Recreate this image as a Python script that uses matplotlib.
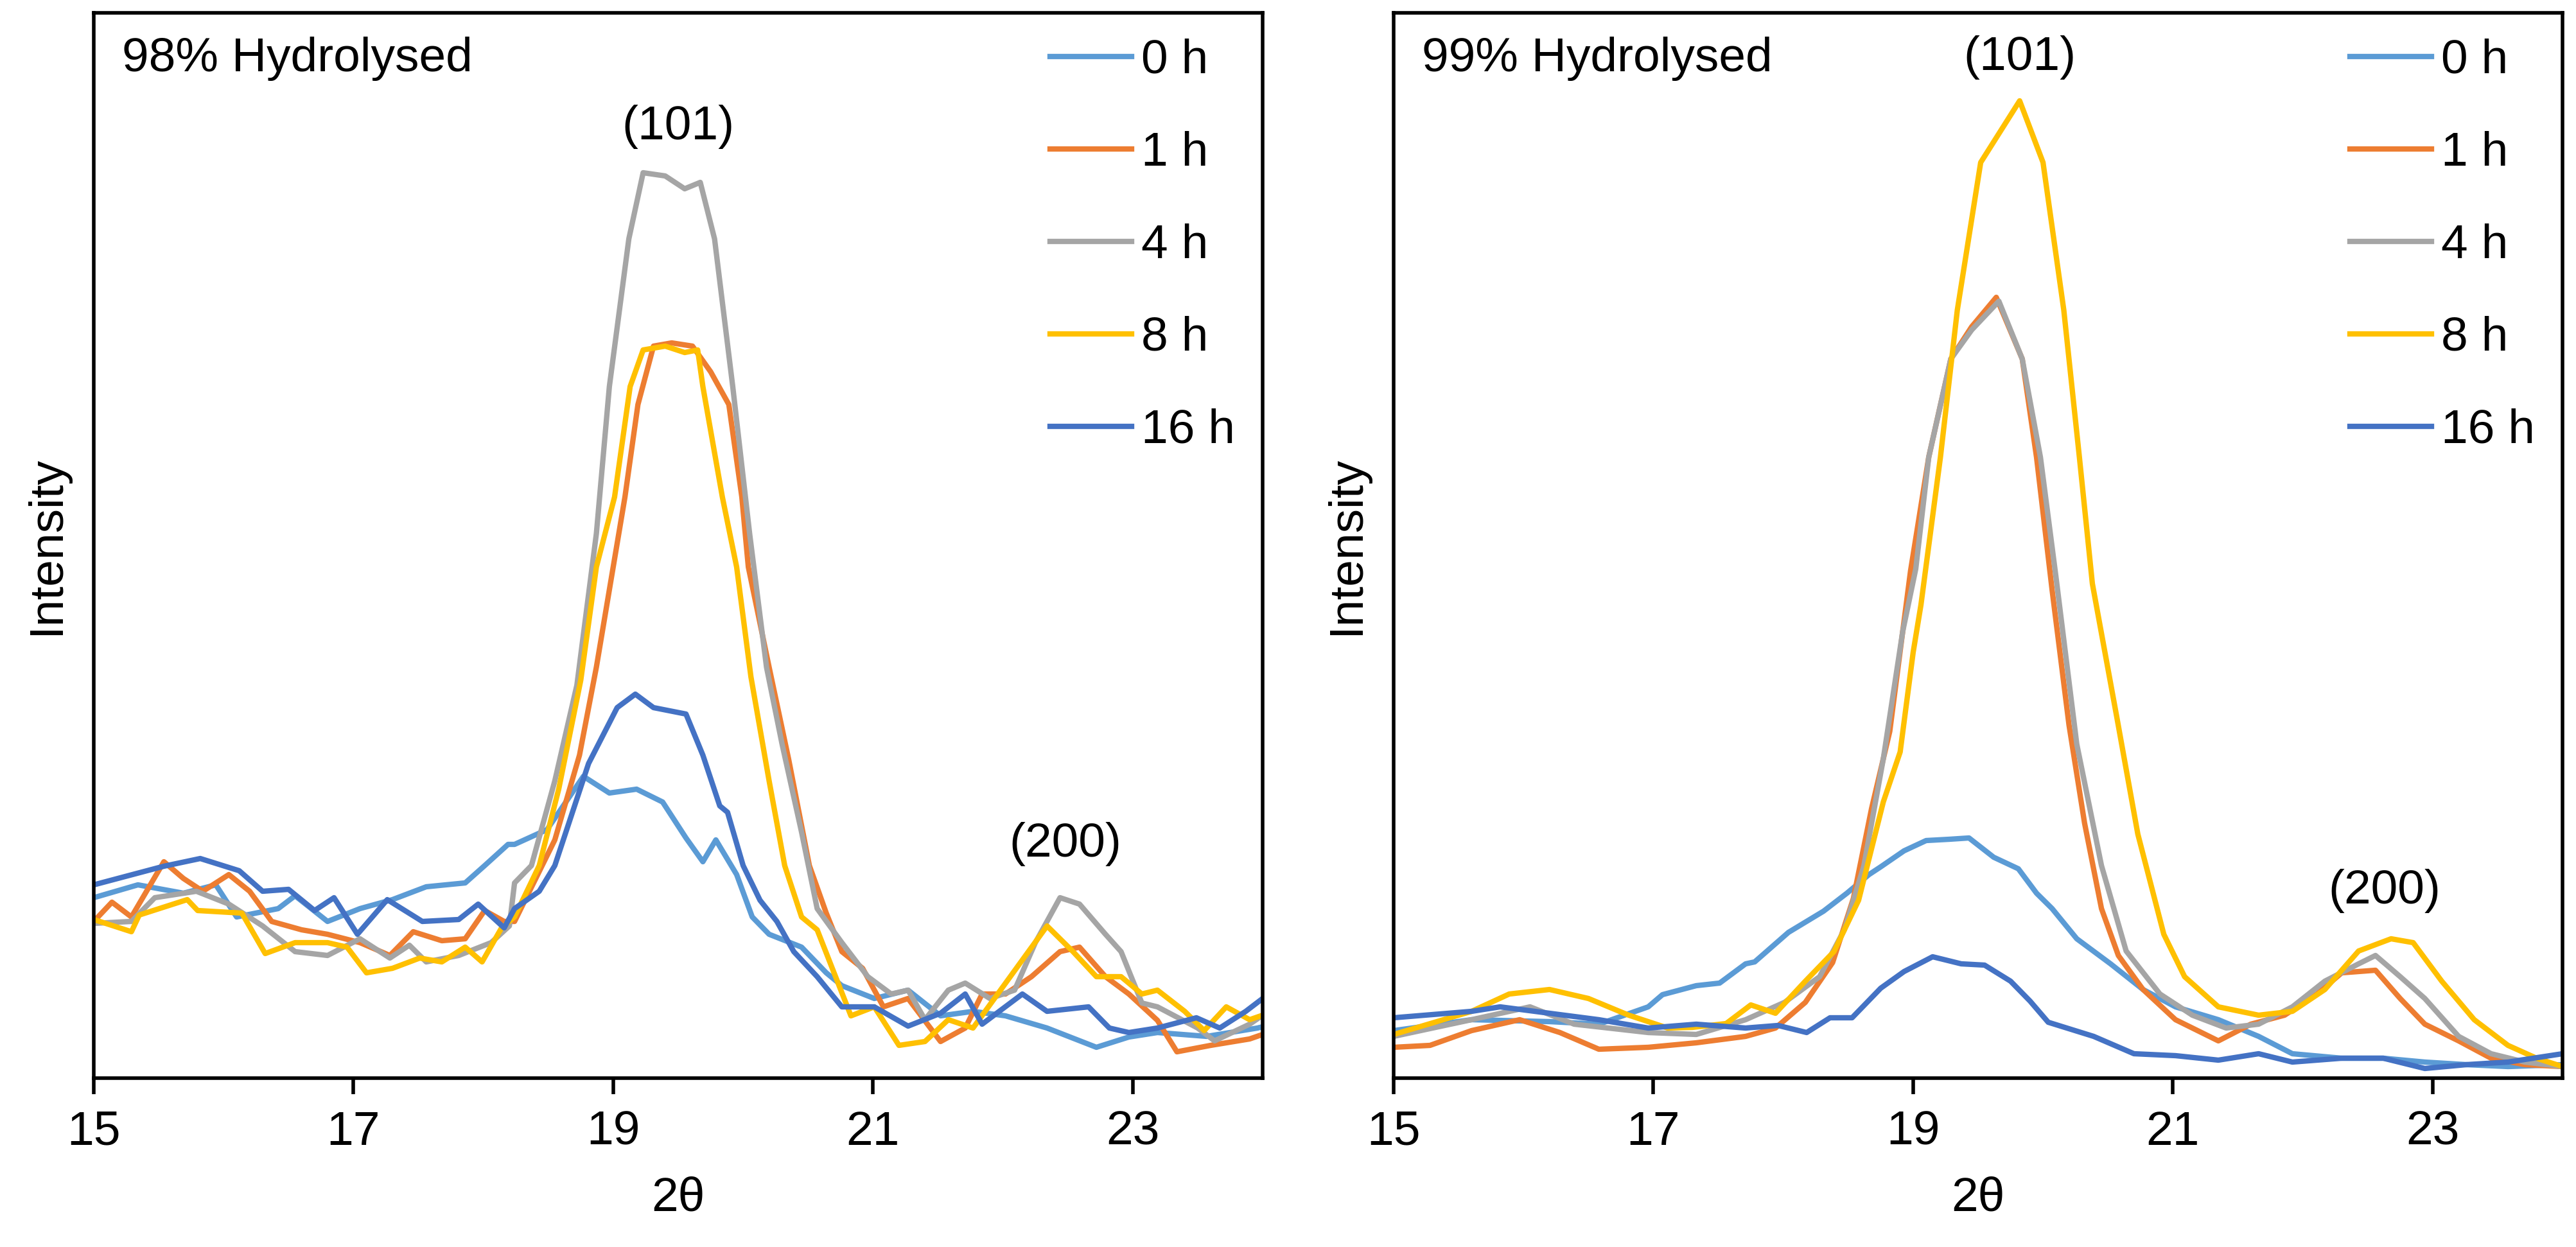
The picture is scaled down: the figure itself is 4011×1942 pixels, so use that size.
import matplotlib
matplotlib.use("Agg")
import matplotlib.pyplot as plt

# 2theta / intensity readings (arbitrary units, baseline = 0)
labels = ['0 h', '1 h', '4 h', '8 h', '16 h']
colors = ['#5B9BD5', '#ED7D31', '#A5A5A5', '#FFC000', '#4472C4']

# ---- 98% hydrolysed ----
tth98_0h = [15.0, 15.34, 15.69, 15.94, 16.1, 16.42, 16.55, 16.8, 17.05, 17.3, 17.56, 17.86, 18.01, 18.19,
            18.24, 18.49, 18.77, 18.97, 19.18, 19.38, 19.56, 19.69, 19.79, 19.95, 20.07, 20.2, 20.45,
            20.64, 20.76, 21.01, 21.27, 21.52, 21.77, 22.02, 22.34, 22.72, 22.97, 23.19, 23.57, 23.96, 24.0]
int98_0h = [281, 301, 288, 301, 251, 264, 284, 244, 264, 278, 298, 304, 331, 364,
            364, 387, 470, 444, 450, 430, 374, 337, 371, 317, 251, 224, 204,
            164, 144, 124, 137, 97, 104, 97, 78, 48, 64, 71, 65, 78, 80]

tth98_1h = [15.0, 15.14, 15.29, 15.54, 15.69, 15.84, 16.04, 16.2, 16.37, 16.6, 16.8, 17.05, 17.28, 17.46,
            17.68, 17.86, 18.01, 18.16, 18.24, 18.55, 18.74, 18.87, 19.09, 19.19, 19.31, 19.45, 19.61,
            19.75, 19.89, 19.99, 20.04, 20.2, 20.35, 20.51, 20.64, 20.76, 20.92, 21.08, 21.27, 21.52,
            21.71, 21.84, 22.02, 22.22, 22.44, 22.59, 22.79, 22.97, 23.19, 23.34, 23.6, 23.9, 24.0]
int98_1h = [244, 274, 251, 337, 311, 291, 317, 291, 244, 231, 224, 211, 191, 228,
            214, 217, 261, 244, 244, 371, 503, 640, 905, 1049, 1140, 1145, 1140,
            1100, 1049, 905, 796, 640, 497, 331, 257, 197, 171, 111, 124, 57,
            78, 131, 131, 158, 197, 204, 158, 131, 90, 41, 51, 61, 68]

tth98_4h = [15.0, 15.29, 15.47, 15.79, 16.04, 16.3, 16.55, 16.8, 17.05, 17.28, 17.43, 17.56, 17.81, 18.06,
            18.2, 18.24, 18.37, 18.55, 18.72, 18.87, 18.97, 19.12, 19.23, 19.4, 19.55, 19.67, 19.78,
            19.92, 20.05, 20.18, 20.3, 20.45, 20.57, 20.76, 20.96, 21.14, 21.27, 21.4, 21.58, 21.71,
            21.9, 22.09, 22.25, 22.44, 22.59, 22.79, 22.91, 23.07, 23.19, 23.5, 23.63, 23.9, 24.0]
int98_4h = [241, 244, 281, 291, 271, 237, 197, 191, 217, 187, 207, 181, 191, 211,
            237, 304, 331, 463, 612, 848, 1077, 1307, 1410, 1405, 1385, 1395, 1307,
            1077, 848, 640, 520, 383, 264, 211, 158, 131, 137, 91, 137, 148,
            124, 137, 211, 281, 271, 224, 197, 117, 111, 78, 58, 84, 98]

tth98_8h = [15.0, 15.29, 15.35, 15.72, 15.8, 16.14, 16.32, 16.55, 16.8, 16.95, 17.1, 17.3, 17.51, 17.68,
            17.86, 17.99, 18.14, 18.24, 18.43, 18.58, 18.75, 18.87, 19.01, 19.13, 19.23, 19.4, 19.55,
            19.65, 19.69, 19.84, 19.95, 20.06, 20.2, 20.32, 20.45, 20.57, 20.7, 20.83, 21.01, 21.2,
            21.4, 21.58, 21.77, 21.96, 22.15, 22.34, 22.54, 22.72, 22.91, 23.07, 23.19, 23.4, 23.55,
            23.72, 23.9, 24.0]
int98_8h = [247, 228, 254, 278, 261, 257, 194, 211, 211, 204, 164, 171, 187, 181,
            204, 181, 234, 251, 331, 450, 620, 796, 905, 1077, 1134, 1140, 1130,
            1134, 1077, 905, 796, 625, 463, 331, 251, 231, 164, 97, 111, 51,
            57, 91, 78, 131, 184, 237, 197, 158, 158, 131, 137, 104, 74,
            111, 91, 98]

tth98_16h = [15.0, 15.54, 15.82, 16.12, 16.3, 16.5, 16.7, 16.85, 17.03, 17.26, 17.53, 17.81, 17.96, 18.16,
             18.24, 18.43, 18.55, 18.81, 19.03, 19.17, 19.31, 19.56, 19.69, 19.82, 19.88, 20.0, 20.13,
             20.26, 20.39, 20.57, 20.76, 21.01, 21.27, 21.52, 21.71, 21.84, 22.15, 22.34, 22.66, 22.82,
             22.97, 23.19, 23.49, 23.67, 23.87, 24.0]
int98_16h = [301, 330, 342, 323, 291, 294, 261, 281, 224, 278, 244, 247, 271, 234,
             264, 291, 331, 490, 577, 598, 577, 567, 503, 424, 414, 331, 277,
             244, 197, 158, 111, 111, 81, 101, 131, 84, 131, 104, 111, 78,
             71, 78, 94, 78, 104, 124]

# ---- 99% hydrolysed ----
tth99_0h = [15.0, 15.6, 16.2, 16.58, 16.96, 17.07, 17.33, 17.51, 17.71, 17.78, 18.04, 18.31, 18.49, 18.66,
            18.75, 18.93, 19.1, 19.28, 19.43, 19.62, 19.81, 19.95, 20.07, 20.26, 20.52, 20.77, 21.02,
            21.35, 21.66, 21.92, 22.3, 22.62, 22.94, 23.26, 23.58, 24.0]
int99_0h = [74, 91, 88, 84, 111, 130, 144, 148, 178, 181, 227, 260, 288, 317,
            329, 354, 370, 372, 374, 344, 326, 288, 264, 217, 178, 138, 111,
            91, 65, 38, 31, 31, 25, 21, 18, 21]

tth99_1h = [15.0, 15.28, 15.6, 15.97, 16.28, 16.58, 16.96, 17.33, 17.71, 17.94, 18.17, 18.38, 18.54, 18.68,
            18.82, 18.98, 19.12, 19.29, 19.45, 19.64, 19.84, 19.95, 20.07, 20.2, 20.32, 20.45, 20.58,
            20.77, 21.02, 21.35, 21.6, 21.86, 22.11, 22.3, 22.56, 22.75, 22.94, 23.2, 23.45, 23.71, 24.0]
int99_1h = [48, 51, 74, 91, 71, 45, 48, 55, 65, 78, 118, 180, 280, 420,
            540, 790, 967, 1120, 1170, 1216, 1120, 967, 760, 550, 397, 264, 191,
            138, 91, 58, 84, 98, 131, 164, 168, 124, 84, 58, 31, 21, 18]

tth99_4h = [15.0, 15.6, 16.05, 16.39, 16.96, 17.33, 17.71, 18.01, 18.28, 18.47, 18.62, 18.77, 18.92, 19.02,
            19.12, 19.29, 19.45, 19.66, 19.84, 19.98, 20.1, 20.26, 20.45, 20.64, 20.9, 21.15, 21.41,
            21.66, 21.92, 22.17, 22.43, 22.56, 22.75, 22.94, 23.2, 23.45, 23.71, 24.0]
int99_4h = [65, 91, 111, 84, 71, 68, 91, 118, 158, 231, 330, 497, 696, 793,
            967, 1120, 1165, 1210, 1120, 967, 780, 520, 331, 198, 131, 98, 78,
            84, 111, 151, 178, 191, 158, 124, 65, 38, 25, 18]

tth99_8h = [15.0, 15.6, 15.89, 16.2, 16.5, 16.81, 17.11, 17.3, 17.56, 17.75, 17.94, 18.17, 18.39, 18.58,
            18.77, 18.9, 19.0, 19.06, 19.21, 19.34, 19.52, 19.82, 20.0, 20.16, 20.28, 20.38, 20.57,
            20.73, 20.93, 21.09, 21.35, 21.66, 21.92, 22.17, 22.43, 22.68, 22.85, 23.07, 23.32, 23.58,
            23.8, 24.0]
int99_8h = [68, 104, 131, 138, 124, 98, 78, 79, 85, 114, 101, 151, 197, 277,
            430, 508, 663, 737, 967, 1196, 1426, 1522, 1426, 1196, 967, 770, 560,
            380, 224, 158, 111, 98, 104, 138, 198, 217, 211, 151, 91, 51,
            31, 18]

tth99_16h = [15.0, 15.6, 15.82, 16.2, 16.58, 16.96, 17.33, 17.71, 17.96, 18.18, 18.36, 18.53, 18.75, 18.93,
             19.15, 19.37, 19.55, 19.75, 19.9, 20.04, 20.39, 20.7, 21.02, 21.35, 21.66, 21.92, 22.3,
             22.62, 22.94, 23.26, 23.58, 24.0]
int99_16h = [94, 104, 111, 101, 91, 78, 84, 78, 82, 71, 94, 94, 140, 166,
             189, 178, 176, 151, 120, 87, 65, 38, 35, 28, 38, 25, 31,
             31, 15, 21, 25, 38]

series98 = [(tth98_0h, int98_0h), (tth98_1h, int98_1h), (tth98_4h, int98_4h),
            (tth98_8h, int98_8h), (tth98_16h, int98_16h)]
series99 = [(tth99_0h, int99_0h), (tth99_1h, int99_1h), (tth99_4h, int99_4h),
            (tth99_8h, int99_8h), (tth99_16h, int99_16h)]

panel_titles = ['98% Hydrolysed', '99% Hydrolysed']
peak_labels98 = [('(101)', 19.5, 1482), ('(200)', 22.48, 364)]
peak_labels99 = [('(101)', 19.82, 1590), ('(200)', 22.63, 291)]
xticks = [15, 17, 19, 21, 23]

plt.rcParams['font.family'] = ['Liberation Sans', 'DejaVu Sans']
FS = 27

fig = plt.figure(figsize=(20.06, 9.71), dpi=200)
ax1 = fig.add_axes([0.03639, 0.13543, 0.45364, 0.85427])
ax2 = fig.add_axes([0.54088, 0.13543, 0.45364, 0.85427])

for ax, series, title, peaks in [(ax1, series98, panel_titles[0], peak_labels98),
                                 (ax2, series99, panel_titles[1], peak_labels99)]:
    handles = []
    for (x, y), c, lab in zip(series, colors, labels):
        h, = ax.plot(x, y, color=c, lw=3.0, label=lab, solid_joinstyle='round')
        handles.append(h)
    ax.set_xlim(15, 24)
    ax.set_ylim(0, 1659)
    ax.set_xticks(xticks)
    ax.set_yticks([])
    ax.tick_params(axis='x', direction='out', length=9, width=2, labelsize=FS, pad=9)
    for sp in ax.spines.values():
        sp.set_linewidth(2)
        sp.set_color('black')
    ax.set_xlabel('2θ', fontsize=FS, labelpad=12)
    ax.set_ylabel('Intensity', fontsize=FS, labelpad=14)
    ax.text(0.024, 0.978, title, transform=ax.transAxes, ha='left', va='top', fontsize=FS)
    for txt, px, py in peaks:
        ax.text(px, py, txt, ha='center', va='center', fontsize=FS)
    ax.legend(handles=handles, loc='upper left', bbox_to_anchor=(0.818, 0.976),
              frameon=False, fontsize=FS, handlelength=1.7, handletextpad=0.2,
              labelspacing=1.0, borderpad=0, borderaxespad=0)

fig.savefig('out.png', dpi=200)
